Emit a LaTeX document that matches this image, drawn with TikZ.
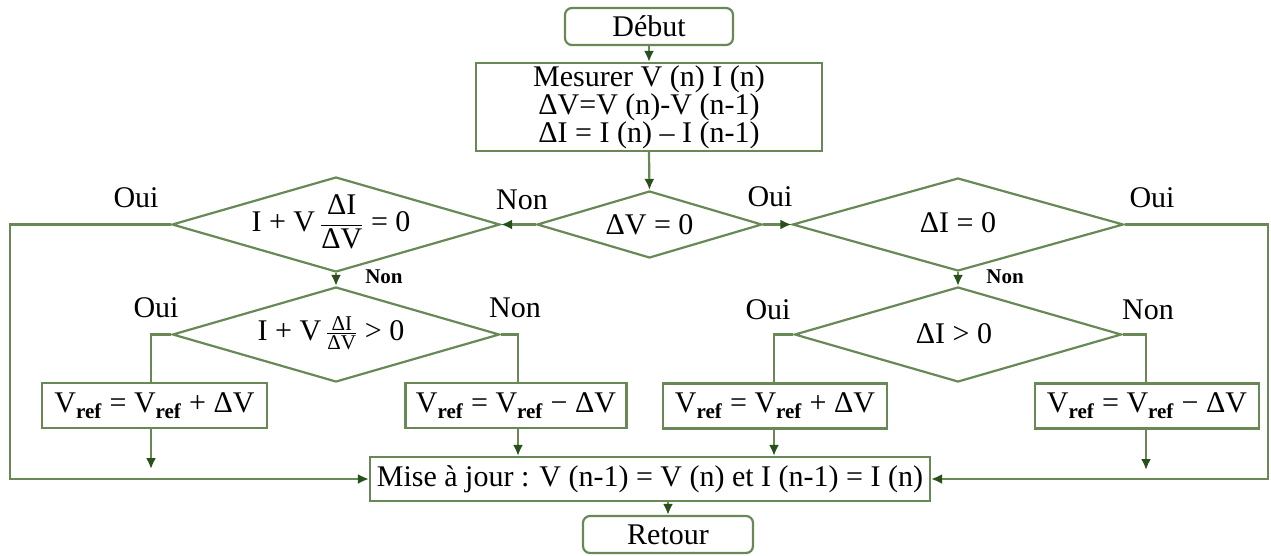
\documentclass[tikz,border=0pt]{standalone}
\usepackage{amsmath}
\usepackage{fontspec}
\setmainfont{Liberation Serif}
\usetikzlibrary{arrows.meta,shapes.geometric}
\definecolor{lgreen}{RGB}{104,136,86}
\definecolor{tgreen}{RGB}{40,80,26}
\begin{document}
\begin{tikzpicture}[x=1pt,y=-1pt,
  every node/.style={font=\fontsize{30}{24}\selectfont, inner sep=0pt},
  box/.style={draw=lgreen, line width=2.2pt, rectangle},
  rbox/.style={box, rounded corners=7pt},
  dec/.style={draw=lgreen, line width=2.2pt, diamond, inner sep=0pt},
  ln/.style={draw=lgreen, line width=2.2pt},
  arr/.style={ln, -{Latex[length=11pt,width=10pt,color=tgreen]}},
  lab/.style={font=\fontsize{30}{30}\selectfont},
  slab/.style={font=\fontsize{21}{21}\bfseries\selectfont}]
\useasboundingbox (0,0) rectangle (1271,555);
\fill[white] (0,0) rectangle (1271,555);

% boxes
\node[rbox, minimum width=168pt, minimum height=37pt] (debut) at (649,26.5) {Début};
\node[box, minimum width=346pt, minimum height=88pt, align=center] (mes) at (649,107)
  {Mesurer V (n) I (n)\\ΔV=V (n)-V (n-1)\\ΔI = I (n) – I (n-1)};

% diamonds
\node[dec, minimum width=225pt, minimum height=67pt] (d1) at (649.5,224.5) {};
\node[dec, minimum width=328pt, minimum height=95pt] (d2) at (336,224.5) {};
\node[dec, minimum width=327pt, minimum height=95pt] (d3) at (336,334.5) {};
\node[dec, minimum width=331pt, minimum height=93pt] (d4) at (958,224.5) {};
\node[dec, minimum width=327pt, minimum height=95pt] (d5) at (958,334.5) {};

\node (t1) at (d1.center) {ΔV = 0};
\node (t2) at (331,222) {I + V\,$\dfrac{\text{ΔI}}{\text{ΔV}}$ = 0};
\node (t3) at (331,333) {I + V\,$\tfrac{\text{ΔI}}{\text{ΔV}}$ > 0};
\node (t4) at (958,223) {ΔI = 0};
\node (t5) at (954,334) {ΔI > 0};

% action boxes
\node[box, minimum width=225pt, minimum height=45pt] (b1) at (154.5,405.5)
  {V\textsubscript{\textbf{ref}} = V\textsubscript{\textbf{ref}} + ΔV};
\node[box, minimum width=221pt, minimum height=45pt] (b2) at (516,405.5)
  {V\textsubscript{\textbf{ref}} = V\textsubscript{\textbf{ref}} − ΔV};
\node[box, minimum width=224pt, minimum height=45pt] (b3) at (775,406)
  {V\textsubscript{\textbf{ref}} = V\textsubscript{\textbf{ref}} + ΔV};
\node[box, minimum width=224pt, minimum height=45pt] (b4) at (1147,406)
  {V\textsubscript{\textbf{ref}} = V\textsubscript{\textbf{ref}} − ΔV};

\node[box, minimum width=560pt, minimum height=44pt] (mise) at (650,479)
  {Mise à jour : V (n-1) = V (n) et I (n-1) = I (n)};
\node[rbox, minimum width=170pt, minimum height=37pt] (retour) at (668,534.5) {Retour};

% labels
\node[lab] (oui1) at (136,198) {Oui};
\node[lab] (non1) at (522,200) {Non};
\node[lab] (oui2) at (770,197) {Oui};
\node[lab] (oui3) at (1152,198) {Oui};
\node[slab] (non2) at (384,277) {Non};
\node[slab] (non3) at (1005,277) {Non};
\node[lab] (oui4) at (156,308) {Oui};
\node[lab] (non4) at (515,308) {Non};
\node[lab] (oui5) at (768,310) {Oui};
\node[lab] (non5) at (1148,310) {Non};

% helper coordinates
\coordinate (cl) at (10,0);
\coordinate (cr) at (1268,0);
\coordinate (j1) at (151,0);
\coordinate (j2) at (518,0);
\coordinate (j3) at (774,0);
\coordinate (j4) at (1146,0);
\coordinate (e1) at (151,469);
\coordinate (e4) at (1146,470);

% connectors
\draw[arr] (debut.south) -- (mes.north);
\draw[arr] (mes.south) -- (d1.north);
\draw[arr] (d1.west) -- (d2.east);
\draw[arr] (d1.east) -- (d4.west);
\draw[arr] (d2.south) -- (d3.north);
\draw[arr] (d4.south) -- (d5.north);
\draw[arr] (d2.west) -- (d2.west -| cl) |- (mise.west);
\draw[arr] (d4.east) -- (d4.east -| cr) |- (mise.east);
\draw[ln] (d3.west) -| (j1 |- b1.north);
\draw[ln] (d3.east) -| (j2 |- b2.north);
\draw[ln] (d5.west) -| (j3 |- b3.north);
\draw[ln] (d5.east) -| (j4 |- b4.north);
\draw[arr] (j1 |- b1.south) -- (e1);
\draw[arr] (j2 |- b2.south) -- (j2 |- mise.north);
\draw[arr] (j3 |- b3.south) -- (j3 |- mise.north);
\draw[arr] (j4 |- b4.south) -- (e4);
\draw[arr] (retour.north |- mise.south) -- (retour.north);
\end{tikzpicture}
\end{document}
